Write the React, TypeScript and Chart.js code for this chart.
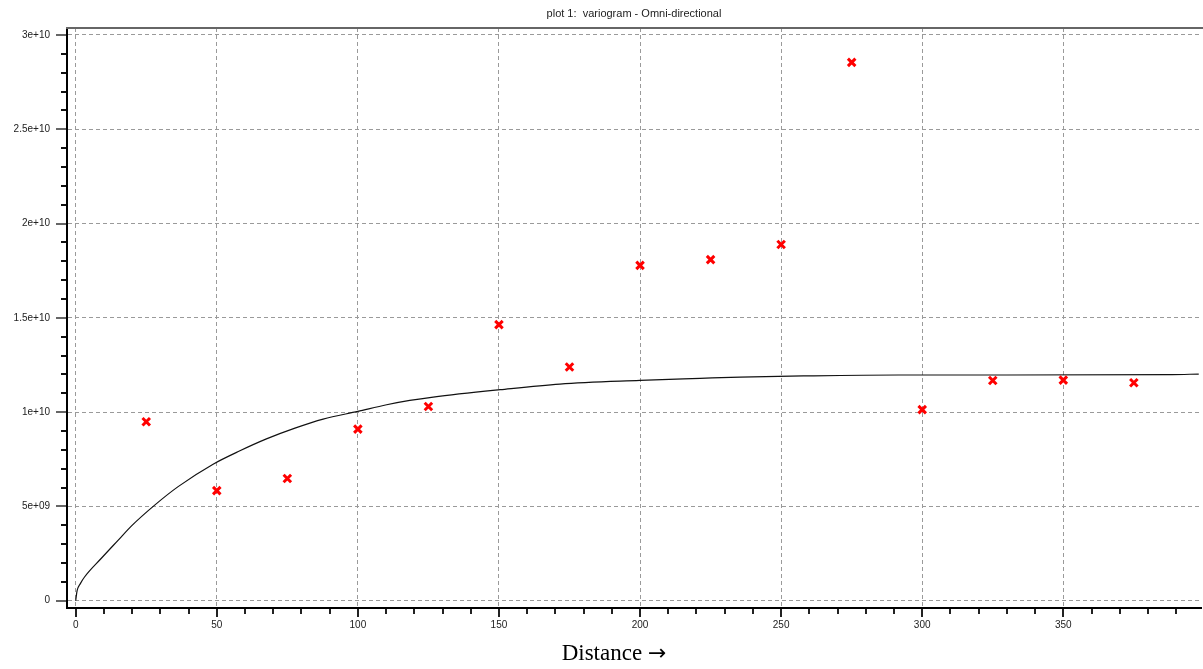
import React, { useEffect, useRef } from "react";
import { Chart, registerables } from "chart.js";

Chart.register(...registerables);

// Experimental variogram (lag distance vs. semivariance)
const lagDistances = [25, 50, 75, 100, 125, 150, 175, 200, 225, 250, 275, 300, 325, 350, 375];
const semivariance = [
  9.49e9, 5.84e9, 6.48e9, 9.1e9, 10.3e9, 14.64e9, 12.39e9, 17.78e9, 18.09e9, 18.89e9,
  28.55e9, 10.13e9, 11.68e9, 11.7e9, 11.56e9,
];

// Fitted model curve
const modelDistance = [
  0, 0.5, 1.7, 3.2, 9.1, 15, 19.8, 28, 36.3, 48.7, 58.2, 67.6, 77.7, 87.7, 100, 110.2, 118.4,
  126.7, 150.4, 171.6, 200, 221.3, 235.5, 257.9, 291.6, 330, 388.5, 398,
];
const modelValue = [
  0, 0.53e9, 0.92e9, 1.27e9, 2.25e9, 3.2e9, 3.97e9, 5.07e9, 6.05e9, 7.24e9, 7.95e9, 8.58e9,
  9.15e9, 9.63e9, 10.04e9, 10.39e9, 10.62e9, 10.8e9, 11.19e9, 11.49e9, 11.68e9, 11.79e9,
  11.86e9, 11.92e9, 11.97e9, 11.97e9, 11.99e9, 12.02e9,
];

const xTickValues = [0, 50, 100, 150, 200, 250, 300, 350];
const xTickLabels = ["0", "50", "100", "150", "200", "250", "300", "350"];
const yTickValues = [0, 5e9, 1e10, 1.5e10, 2e10, 2.5e10, 3e10];
const yTickLabels = ["0", "5e+09", "1e+10", "1.5e+10", "2e+10", "2.5e+10", "3e+10"];

const titleText = "plot 1:  variogram - Omni-directional";
const xAxisTitleWord = "Distance";
const xAxisTitleArrow = "\u2192";

const X_MINOR = 10;
const Y_MINOR = 1e9;

const axisDecor = {
  id: "axisDecor",
  afterDraw(chart: any) {
    const { ctx, chartArea, scales } = chart;
    const x = scales.x;
    const y = scales.y;
    ctx.save();
    // top frame line
    ctx.strokeStyle = "#666";
    ctx.lineWidth = 2;
    ctx.beginPath();
    ctx.moveTo(chartArea.left - 1, chartArea.top);
    ctx.lineTo(chart.width, chartArea.top);
    ctx.stroke();

    // y tick marks
    const axisX = Math.round(chartArea.left) - 1;
    for (let i = 0; i * Y_MINOR <= y.max; i++) {
      const v = i * Y_MINOR;
      const py = Math.round(y.getPixelForValue(v));
      const major = i % 5 === 0;
      ctx.strokeStyle = major ? "#666" : "#111";
      ctx.beginPath();
      ctx.moveTo(axisX, py);
      ctx.lineTo(axisX - (major ? 10 : 5), py);
      ctx.stroke();
    }
    // x tick marks
    const axisY = Math.round(chartArea.bottom) + 1;
    for (let i = 0; i * X_MINOR <= x.max; i++) {
      const v = i * X_MINOR;
      const px = Math.round(x.getPixelForValue(v));
      const major = i % 5 === 0;
      ctx.strokeStyle = "#222";
      ctx.beginPath();
      ctx.moveTo(px, axisY);
      ctx.lineTo(px, axisY + (major ? 8 : 5));
      ctx.stroke();
    }
    ctx.restore();
  },
};

export default function App() {
  const canvasRef = useRef<HTMLCanvasElement | null>(null);

  useEffect(() => {
    if (!canvasRef.current) return;
    const chart = new Chart(canvasRef.current, {
      type: "scatter",
      data: {
        datasets: [
          {
            label: "experimental",
            data: lagDistances.map((d, i) => ({ x: d, y: semivariance[i] })),
            pointStyle: "crossRot",
            pointRadius: 5.3,
            pointBorderWidth: 3,
            borderColor: "#ff0000",
            backgroundColor: "#ff0000",
            showLine: false,
          },
          {
            label: "model",
            data: modelDistance.map((d, i) => ({ x: d, y: modelValue[i] })),
            showLine: true,
            borderColor: "#111",
            borderWidth: 1.2,
            pointRadius: 0,
            cubicInterpolationMode: "monotone",
          },
        ],
      },
      options: {
        animation: false,
        responsive: false,
        devicePixelRatio: 1,
        layout: { autoPadding: false, padding: { left: 0, right: 2, top: 0, bottom: 0 } },
        plugins: {
          legend: { display: false },
          tooltip: { enabled: false },
          title: {
            display: true,
            text: titleText,
            fullSize: false,
            color: "#222",
            font: { family: "'Liberation Sans', Arial, sans-serif", size: 11, weight: "normal" },
            padding: { top: 7, bottom: 7.8 },
          },
        },
        scales: {
          x: {
            type: "linear",
            min: -3.08,
            max: 398.8,
            afterFit(scale: any) {
              scale.height = 61;
            },
            afterBuildTicks(scale: any) {
              scale.ticks = xTickValues.map((v) => ({ value: v }));
            },
            ticks: {
              autoSkip: false,
              maxRotation: 0,
              padding: 11,
              color: "#222",
              font: { family: "'Liberation Sans', Arial, sans-serif", size: 10 },
              callback: (_v: any, i: number) => xTickLabels[i],
            },
            grid: { color: "#9a9a9a", lineWidth: 1, drawTicks: false },
            border: { display: true, color: "#000", width: 2, dash: [4, 3] },
          },
          y: {
            type: "linear",
            min: -0.387e9,
            max: 30.37e9,
            afterFit(scale: any) {
              scale.width = 67;
            },
            afterBuildTicks(scale: any) {
              scale.ticks = yTickValues.map((v) => ({ value: v }));
            },
            ticks: {
              autoSkip: false,
              padding: 17,
              color: "#222",
              font: { family: "'Liberation Sans', Arial, sans-serif", size: 10 },
              callback: (_v: any, i: number) => yTickLabels[i],
            },
            grid: { color: "#9a9a9a", lineWidth: 1, drawTicks: false },
            border: { display: true, color: "#000", width: 2, dash: [4, 3] },
          },
        },
      },
      plugins: [axisDecor],
    } as any);
    return () => chart.destroy();
  }, []);

  return (
    <div style={{ position: "fixed", left: 0, top: 0, width: 1203, height: 669, background: "#fff" }}>
      <canvas ref={canvasRef} width={1203} height={669} style={{ display: "block" }} />
      <div
        style={{
          position: "absolute",
          left: 0,
          width: 1228,
          top: 641,
          textAlign: "center",
          fontFamily: "'Liberation Serif', 'Times New Roman', serif",
          fontSize: 23,
          lineHeight: "23px",
          color: "#000",
          whiteSpace: "nowrap",
        }}
      >
        {xAxisTitleWord}{" "}
        <span style={{ fontFamily: "'DejaVu Sans', sans-serif", fontSize: 22 }}>{xAxisTitleArrow}</span>
      </div>
    </div>
  );
}
